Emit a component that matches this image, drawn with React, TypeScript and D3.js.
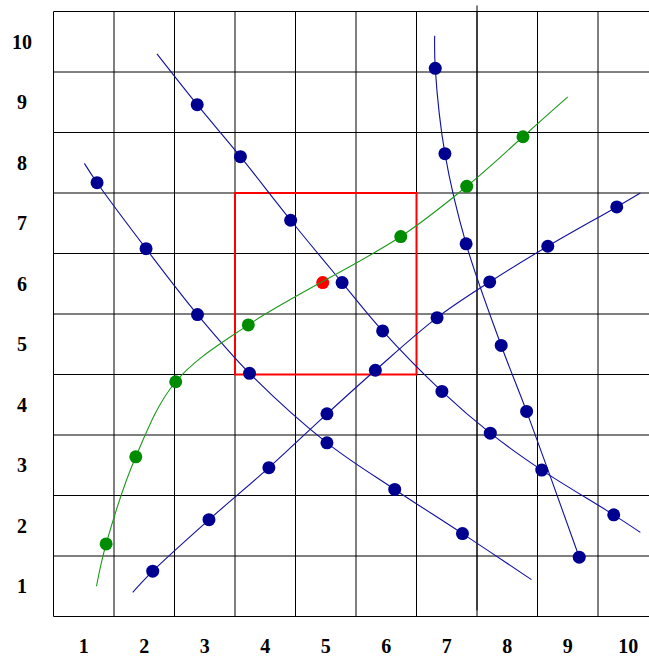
import React from 'react';
import { scaleLinear, line, curveCatmullRom, range } from 'd3';

const W = 649;
const H = 657;

// tick labels
const xTicks = [1, 2, 3, 4, 5, 6, 7, 8, 9, 10];
const yTicks = [1, 2, 3, 4, 5, 6, 7, 8, 9, 10];

// series A (blue, falling) - dots + line ends
const aX = [1.22, 2.03, 2.88, 3.74, 5.02, 6.14, 7.26];
const aY = [7.67, 6.58, 5.49, 4.52, 3.37, 2.6, 1.87];
const aStart = [1.01, 7.99];
const aEnd = [8.4, 1.11];

// series B (blue, falling)
const bX = [2.875, 3.59, 4.42, 5.27, 5.94, 6.92, 7.72, 8.57, 9.76];
const bY = [8.96, 8.1, 7.05, 6.02, 5.22, 4.22, 3.53, 2.92, 2.18];
const bStart = [2.21, 9.8];
const bEnd = [10.2, 1.89];

// series C (blue, steep)
const cX = [6.81, 6.97, 7.32, 7.9, 8.32, 9.19];
const cY = [9.56, 8.15, 6.66, 4.98, 3.89, 1.48];
const cStart = [6.8, 10.1];

// series D (blue, rising)
const dX = [2.14, 3.07, 4.06, 5.02, 5.82, 6.84, 7.71, 8.67, 9.81];
const dY = [1.25, 2.1, 2.96, 3.85, 4.57, 5.44, 6.03, 6.62, 7.27];
const dStart = [1.81, 0.9];
const dEnd = [10.2, 7.5];

// series E (green)
const eX = [1.37, 1.86, 2.52, 3.72, 6.24, 7.33, 8.26];
const eY = [1.7, 3.14, 4.38, 5.32, 6.78, 7.61, 8.43];
const eStart = [1.21, 1.0];
const eEnd = [9.0, 9.09];

// highlighted point and box
const redPoint = [4.95, 6.02];
const boxX = [3.5, 6.5];
const boxY = [4.5, 7.5];
const markerX = 7.5;
const markerY = [0.6, 10.6];

const BLUE_DOT = '#000090';
const BLUE_LINE = '#1010a0';
const GREEN = '#008c00';

const App = () => {
  const x = scaleLinear().domain([0.5, 10.5]).range([53.5, 658.5]);
  const y = scaleLinear().domain([0.5, 10.5]).range([616.5, 11.5]);
  const gridVals = range(0, 11).map(i => 0.5 + i);

  const path = line<number[]>()
    .x(d => x(d[0]))
    .y(d => y(d[1]))
    .curve(curveCatmullRom.alpha(0.5));

  const pts = (xs: number[], ys: number[]) => xs.map((v, i) => [v, ys[i]]);

  const series = [
    { xs: aX, ys: aY, start: aStart, end: aEnd, dot: BLUE_DOT, stroke: BLUE_LINE },
    { xs: bX, ys: bY, start: bStart, end: bEnd, dot: BLUE_DOT, stroke: BLUE_LINE },
    { xs: cX, ys: cY, start: cStart, end: null, dot: BLUE_DOT, stroke: BLUE_LINE },
    { xs: dX, ys: dY, start: dStart, end: dEnd, dot: BLUE_DOT, stroke: BLUE_LINE },
    { xs: eX, ys: eY, start: eStart, end: eEnd, dot: GREEN, stroke: '#1a9a1a' },
  ];

  const labelStyle = { fontFamily: '"Liberation Serif", serif', fontWeight: 'bold' as const, fontSize: 20 };

  return (
    <div style={{ position: 'fixed', left: 0, top: 0, width: W, height: H, background: 'white' }}>
      <svg width={W} height={H} style={{ display: 'block' }}>
        {/* grid */}
        {gridVals.map(v => (
          <line key={'v' + v} x1={x(v)} x2={x(v)} y1={y(0.5)} y2={y(10.5)} stroke="black" strokeWidth={1} />
        ))}
        {gridVals.map(v => (
          <line key={'h' + v} x1={x(0.5)} x2={x(10.5)} y1={y(v)} y2={y(v)} stroke="black" strokeWidth={1} />
        ))}
        <line x1={x(markerX)} x2={x(markerX)} y1={y(markerY[0])} y2={y(markerY[1])} stroke="black" strokeWidth={1} />

        {/* tick labels */}
        {xTicks.map(t => (
          <text key={'xt' + t} x={x(t)} y={646} textAnchor="middle" dominantBaseline="central" style={labelStyle}>{t}</text>
        ))}
        {yTicks.map(t => (
          <text key={'yt' + t} x={22} y={y(t)} textAnchor="middle" dominantBaseline="central" style={labelStyle}>{t}</text>
        ))}

        {/* red box */}
        <rect x={x(boxX[0])} y={y(boxY[1])} width={x(boxX[1]) - x(boxX[0])} height={y(boxY[0]) - y(boxY[1])}
          fill="none" stroke="#ff0000" strokeWidth={2} />
        <circle cx={x(redPoint[0])} cy={y(redPoint[1])} r={6.5} fill="#ff0000" />

        {/* curves */}
        {series.map((s, i) => {
          const p = [s.start, ...pts(s.xs, s.ys)];
          if (s.end) p.push(s.end);
          return <path key={'l' + i} d={path(p) || ''} fill="none" stroke={s.stroke} strokeWidth={1.1} />;
        })}

        {/* dots */}
        {series.map((s, i) => (
          <g key={'g' + i}>
            {pts(s.xs, s.ys).map((d, j) => (
              <circle key={j} cx={x(d[0])} cy={y(d[1])} r={6.5} fill={s.dot} />
            ))}
          </g>
        ))}
      </svg>
    </div>
  );
};

export default App;
